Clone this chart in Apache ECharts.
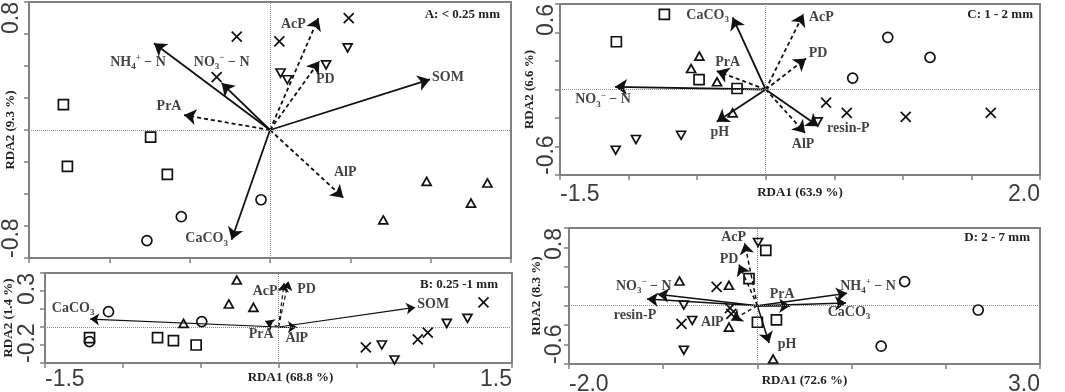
<!DOCTYPE html>
<html>
<head>
<meta charset="utf-8">
<script src="https://cdn.jsdelivr.net/npm/echarts@6/dist/echarts.min.js"></script>
<style>
  html,body{margin:0;padding:0;background:#fff;}
  #chart{width:1065px;height:392px;}
</style>
</head>
<body>
<div id="chart"></div>
<script>
// ---------- data ----------
// A: < 0.25 mm
var aX = [-1.5, 1.5], aY = [-0.8, 0.8];
var aSquare = [[-1.286,0.159],[-0.743,-0.045],[-1.261,-0.227],[-0.639,-0.277]];
var aCircle = [[-0.056,-0.436],[-0.552,-0.542],[-0.766,-0.691]];
var aTriUp = [[0.975,-0.321],[1.353,-0.331],[1.251,-0.457],[0.705,-0.562]];
var aTriDown = [[0.483,0.513],[0.349,0.407],[0.066,0.356],[0.108,0.314]];
var aCross = [[0.490,0.699],[-0.207,0.583],[0.058,0.554],[-0.332,0.331]];
var aVars = ['NH4+ − N','NO3− − N','PrA','AcP','PD','SOM','AlP','CaCO3'];
var aTips = [[-0.722,0.542],[-0.301,0.293],[-0.535,0.093],[0.301,0.699],[0.307,0.430],[0.996,0.316],[0.456,-0.423],[-0.239,-0.686]];
var aDashed = ['PrA','AcP','PD','AlP'];

// B: 0.25 - 1 mm
var bX = [-1.5, 1.5], bY = [-0.2, 0.3];
var bSquare = [[-1.214,-0.059],[-0.777,-0.059],[-0.675,-0.076],[-0.529,-0.100]];
var bCircle = [[-1.214,-0.081],[-1.092,0.085],[-0.493,0.030]];
var bTriUp = [[-0.268,0.261],[-0.319,0.128],[-0.161,0.109],[-0.610,0.020]];
var bTriDown = [[0.664,-0.100],[0.745,-0.183],[1.081,0.020],[1.214,0.048]];
var bCross = [[0.561,-0.113],[0.895,-0.069],[0.959,-0.031],[1.317,0.137]];
var bVars = ['CaCO3','SOM','AlP','PrA','AcP','PD'];
var bTips = [[-1.210,0.044],[0.878,0.109],[0.118,0.0],[-0.086,0.033],[0.036,0.244],[0.064,0.254]];
var bDashed = ['PrA','AcP','PD'];

// C: 1 - 2 mm
var cX = [-1.5, 2.0], cY = [-0.6, 0.6];
var cSquare = [[-0.739,0.527],[-1.089,0.335],[-0.486,0.070],[-0.209,0.007]];
var cCircle = [[0.890,0.366],[1.198,0.225],[0.634,0.080]];
var cTriUp = [[-0.484,0.234],[-0.544,0.147],[-0.355,0.054],[-0.241,-0.164]];
var cTriDown = [[-1.094,-0.426],[-0.946,-0.351],[-0.617,-0.321],[0.379,-0.227]];
var cCross = [[0.440,-0.092],[0.591,-0.164],[1.021,-0.192],[1.641,-0.164]];
var cVars = ['CaCO3','AcP','PD','PrA','NO3− − N','pH','AlP','resin-P'];
var cTips = [[-0.241,0.506],[0.275,0.530],[0.294,0.218],[-0.357,0.129],[-1.099,0.019],[-0.357,-0.227],[0.287,-0.305],[0.384,-0.258]];
var cDashed = ['AcP','PD','PrA','AlP'];

// D: 2 - 7 mm
var dX = [-2.0, 3.0], dY = [-0.6, 0.8];
var dSquare = [[0.089,0.569],[-0.089,0.278],[0.0,-0.170],[0.202,-0.146]];
var dCircle = [[1.563,0.248],[2.344,-0.044],[1.314,-0.417]];
var dTriUp = [[-0.827,0.254],[-0.302,0.210],[-0.302,-0.220],[0.167,-0.549]];
var dTriDown = [[0.007,0.651],[-0.781,0.007],[-0.692,-0.152],[-0.781,-0.458]];
var dCross = [[-0.433,0.194],[-0.291,-0.024],[-0.277,-0.085],[-0.806,-0.187]];
var dVars = ['AcP','PD','NO3− − N','resin-P','NH4+ − N','CaCO3','PrA','AlP','pH'];
var dTips = [[-0.135,0.644],[-0.195,0.424],[-1.058,0.119],[-1.172,0.068],[0.952,0.129],[0.941,0.027],[0.348,0.0],[-0.277,-0.152],[0.124,-0.383]];
var dDashed = ['AcP','PD','AlP'];

// ---------- styling ----------
var INK = '#111';
var FRAME = '#808080';
var SERIF = '"Liberation Serif", "DejaVu Serif", serif';
var SANS = '"Liberation Sans", Arial, sans-serif';

var panels = [
  {title:'A: < 0.25 mm', box:{left:29, top:2, width:482, height:256}, xr:aX, yr:aY, xi:0.5, yi:0.2,
   xLabels:false, xName:'', xShift:0, yName:'RDA2 (9.3 %)', yGap:12, yMargin:6, xGap:8, xMargin:5, titlePos:{right:565, top:8},
   sq:aSquare, ci:aCircle, tu:aTriUp, td:aTriDown, cr:aCross, vars:aVars, tips:aTips, dashed:aDashed, aw:1.8, as:12,
   offs:[[-16,19],[0,-21],[-15,-9],[-25,6],[6,18],[18,-2],[2,-25],[-25,-1]]},
  {title:'B: 0.25 -1 mm', box:{left:45, top:273, width:467, height:90}, xr:bX, yr:bY, xi:0.5, yi:0.1,
   xLabels:true, xName:'RDA1 (68.8 %)', xShift:24, yName:'RDA2 (1.4 %)', yGap:30, yMargin:6, xGap:8, xMargin:5, titlePos:{right:567, top:278},
   sq:bSquare, ci:bCircle, tu:bTriUp, td:bTriDown, cr:bCross, vars:bVars, tips:bTips, dashed:bDashed, aw:1.2, as:9,
   offs:[[-17,-11],[18,-3],[0,11],[-4,13],[-19,8],[18,8]]},
  {title:'C: 1 - 2 mm', box:{left:560, top:4, width:480, height:171}, xr:cX, yr:cY, xi:0.5, yi:0.2,
   xLabels:true, xName:'RDA1 (63.9 %)', xShift:0, yName:'RDA2 (6.6 %)', yGap:24, yMargin:2, xGap:11, xMargin:8, titlePos:{right:32, top:8},
   sq:cSquare, ci:cCircle, tu:cTriUp, td:cTriDown, cr:cCross, vars:cVars, tips:cTips, dashed:cDashed, aw:1.8, as:12,
   offs:[[-25,-2],[18,3],[12,-5],[11,-9],[-12,13],[3,11],[-2,11],[30,2]]},
  {title:'D: 2 - 7 mm', box:{left:569, top:228, width:471, height:136}, xr:dX, yr:dY, xi:1.0, yi:0.2,
   xLabels:true, xName:'RDA1 (72.6 %)', xShift:0, yName:'RDA2 (8.3 %)', yGap:26, yMargin:3, xGap:10, xMargin:9, titlePos:{right:35, top:231},
   sq:dSquare, ci:dCircle, tu:dTriUp, td:dTriDown, cr:dCross, vars:dVars, tips:dTips, dashed:dDashed, aw:1.5, as:11,
   offs:[[-11,-6],[-10,-5],[-14,-8],[-12,16],[21,-7],[3,9],[-8,-11],[-19,2],[18,1]]}
];

function richName(n) {
  if (n === 'CaCO3') return 'CaCO{sub|3}';
  if (n === 'NH4+ − N') return 'NH{sub|4}{sup|+} − N';
  if (n === 'NO3− − N') return 'NO{sub|3}{sup|−} − N';
  return n;
}

function endLabel(lo, hi) {
  return function (v) {
    if (Math.abs(v - lo) < 1e-6 || Math.abs(v - hi) < 1e-6) return v.toFixed(1);
    return '';
  };
}

var lineAxis = {show:true, onZero:false, lineStyle:{color:FRAME, width:2}};
var tickStyle = {show:true, length:5, inside:false, lineStyle:{color:FRAME, width:1.5}};
var nameStyle = {fontFamily:SERIF, fontWeight:'bold', fontSize:13, color:'#222'};

var grids = [], xAxes = [], yAxes = [], series = [], titles = [];

function markerSeries(i, data, symbol, size, rotate) {
  return {
    type:'scatter', xAxisIndex:i, yAxisIndex:i, data:data, silent:true,
    symbol:symbol, symbolSize:size, symbolRotate:rotate || 0,
    itemStyle:{color:'rgba(0,0,0,0)', borderColor:INK, borderWidth:1.7, opacity:1},
    z:5
  };
}

panels.forEach(function (p, i) {
  grids.push({left:p.box.left, top:p.box.top, width:p.box.width, height:p.box.height,
    show:true, borderColor:FRAME, borderWidth:2, containLabel:false, outerBoundsMode:'none'});

  xAxes.push({
    gridIndex:i, type:'value', min:p.xr[0], max:p.xr[1], interval:p.xi,
    axisLine:lineAxis, axisTick:tickStyle, splitLine:{show:false},
    axisLabel:{show:p.xLabels, fontFamily:SANS, fontSize:23, color:'#3c3c3c', margin:p.xMargin,
      formatter:endLabel(p.xr[0], p.xr[1]), alignMinLabel:'left', alignMaxLabel:'right',
      showMinLabel:true, showMaxLabel:true, hideOverlap:false},
    name:p.xName, nameLocation:'middle', nameGap:p.xGap, nameMoveOverlap:false,
    nameTextStyle:Object.assign({padding:[0, 0, 0, p.xShift]}, nameStyle)
  });

  yAxes.push({
    gridIndex:i, type:'value', min:p.yr[0], max:p.yr[1], interval:p.yi,
    axisLine:lineAxis, axisTick:tickStyle, splitLine:{show:false},
    axisLabel:{show:true, rotate:90, fontFamily:SANS, fontSize:23, color:'#3c3c3c', margin:p.yMargin,
      formatter:endLabel(p.yr[0], p.yr[1]), alignMinLabel:'left', alignMaxLabel:'right',
      showMinLabel:true, showMaxLabel:true, hideOverlap:false},
    name:p.yName, nameLocation:'middle', nameGap:p.yGap, nameMoveOverlap:false, nameTextStyle:nameStyle
  });

  titles.push({text:p.title, right:p.titlePos.right, top:p.titlePos.top, padding:0,
    textStyle:{fontFamily:SERIF, fontWeight:'bold', fontSize:13, color:'#222'}});

  // zero reference lines + squares
  var sq = markerSeries(i, p.sq, 'rect', 10);
  sq.markLine = {silent:true, symbol:'none', label:{show:false}, animation:false,
    lineStyle:{color:'#8a8a8a', type:'dotted', width:1},
    data:[{xAxis:0}, {yAxis:0}]};
  series.push(sq);
  series.push(markerSeries(i, p.ci, 'circle', 10));
  series.push(markerSeries(i, p.tu, 'triangle', [9, 8]));
  series.push(markerSeries(i, p.td, 'triangle', [9, 8], 180));
  series.push(markerSeries(i, p.cr, 'path://M0,0L10,10M10,0L0,10', 10));

  // biplot arrows
  series.push({
    type:'lines', coordinateSystem:'cartesian2d', xAxisIndex:i, yAxisIndex:i, silent:true,
    symbol:['none','arrow'], symbolSize:p.as,
    lineStyle:{color:INK, width:p.aw, opacity:1},
    data:p.tips.map(function (t, k) {
      var dashed = p.dashed.indexOf(p.vars[k]) >= 0;
      return {coords:[[0, 0], t], lineStyle:{type: dashed ? [4, 3] : 'solid'}};
    }),
    z:4
  });

  // arrow labels
  series.push({
    type:'scatter', xAxisIndex:i, yAxisIndex:i, silent:true, symbolSize:0,
    itemStyle:{color:'rgba(0,0,0,0)'},
    data:p.tips.map(function (t, k) {
      return {value:t, label:{offset:p.offs[k]}};
    }),
    label:{
      show:true, position:'inside', color:INK,
      fontFamily:SERIF, fontWeight:'bold', fontSize:14, lineHeight:18,
      formatter:function (prm) { return richName(p.vars[prm.dataIndex]); },
      rich:{
        sub:{fontFamily:SERIF, fontWeight:'bold', fontSize:9, color:INK, verticalAlign:'bottom', lineHeight:18},
        sup:{fontFamily:SERIF, fontWeight:'bold', fontSize:9, color:INK, verticalAlign:'top', lineHeight:18}
      }
    },
    z:6
  });
});

var chart = echarts.init(document.getElementById('chart'));
chart.setOption({
  animation:false,
  backgroundColor:'#fff',
  title:titles,
  grid:grids,
  xAxis:xAxes,
  yAxis:yAxes,
  series:series
});
window.addEventListener('resize', function () { chart.resize(); });
</script>
</body>
</html>
